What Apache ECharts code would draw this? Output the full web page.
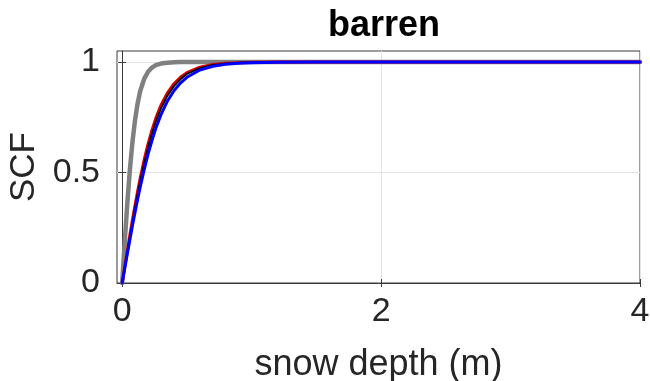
<!DOCTYPE html>
<html>
<head>
<meta charset="utf-8">
<title>barren</title>
<script src="https://cdn.jsdelivr.net/npm/echarts@6/dist/echarts.min.js"></script>
<style>
  html, body { margin: 0; padding: 0; background: #ffffff; }
  #chart { width: 650px; height: 381px; }
</style>
</head>
<body>
<div id="chart"></div>
<script>
// Snow cover fraction vs. snow depth for the barren land class
const depth    = [0, 0.02, 0.04, 0.06, 0.08, 0.1, 0.12, 0.14, 0.17, 0.2, 0.23, 0.26, 0.3, 0.35, 0.4, 0.45, 0.5, 0.6, 0.7, 0.8, 0.9, 1.0, 1.2, 1.5, 2, 3, 4];
const scfGray  = [0, 0.188, 0.364, 0.516, 0.642, 0.741, 0.815, 0.870, 0.924, 0.956, 0.975, 0.986, 0.993, 0.997, 0.999, 1, 1, 1, 1, 1, 1, 1, 1, 1, 1, 1, 1];
const scfRed   = [0, 0.074, 0.147, 0.219, 0.288, 0.354, 0.417, 0.476, 0.558, 0.630, 0.692, 0.746, 0.805, 0.861, 0.902, 0.931, 0.952, 0.977, 0.989, 0.995, 0.997, 0.999, 1, 1, 1, 1, 1];
const scfBlack = [0, 0.071, 0.142, 0.211, 0.278, 0.343, 0.404, 0.462, 0.542, 0.613, 0.676, 0.730, 0.790, 0.848, 0.891, 0.922, 0.946, 0.973, 0.987, 0.993, 0.997, 0.998, 1, 1, 1, 1, 1];
const scfBlue  = [0, 0.067, 0.133, 0.197, 0.261, 0.322, 0.380, 0.436, 0.513, 0.583, 0.645, 0.700, 0.762, 0.824, 0.870, 0.905, 0.931, 0.964, 0.981, 0.990, 0.995, 0.997, 0.999, 1, 1, 1, 1];
const xTicks = [0, 2, 4];
const yTicks = [0, 0.5, 1];

const FONT = '"Liberation Sans", Arial, Helvetica, sans-serif';
const INK = '#262626';
const FRAME = '#3a3a3a';
const GRID = '#e3e3e3';

function pairs(xs, ys) { return xs.map((x, i) => [x, ys[i]]); }

function lineSeries(name, ys, color, width, z) {
  return {
    name: name, type: 'line', data: pairs(depth, ys),
    showSymbol: false, smooth: false,
    lineStyle: { color: color, width: width, join: 'round', cap: 'round' }, z: z,
    animation: false
  };
}

function mirrorTicks(position, min, max, ticks) {
  return {
    type: 'value', min: min, max: max, position: position,
    axisLine: { show: false },
    axisTick: { show: true, inside: true, length: 4, customValues: ticks, lineStyle: { color: FRAME } },
    axisLabel: { show: false }, splitLine: { show: false }
  };
}

const chart = echarts.init(document.getElementById('chart'), null, { renderer: 'canvas' });
chart.setOption({
  animation: false,
  backgroundColor: '#ffffff',
  title: {
    text: 'barren', left: 379, top: 3, textAlign: 'center',
    textStyle: { fontFamily: FONT, fontWeight: 'bold', fontSize: 36, color: '#000' }
  },
  grid: {
    left: 117, right: 10, top: 51, bottom: 98,
    outerBoundsMode: 'none', containLabel: false,
    show: true, borderColor: FRAME, borderWidth: 1, backgroundColor: '#fff'
  },
  xAxis: [{
    type: 'value', min: -0.04, max: 4,
    name: 'snow depth (m)', nameLocation: 'middle', nameGap: 64,
    nameTextStyle: { fontFamily: FONT, fontSize: 36, color: INK },
    axisLine: { show: true, lineStyle: { color: FRAME, width: 1 } },
    axisTick: { show: true, inside: true, length: 4, customValues: xTicks, lineStyle: { color: FRAME } },
    axisLabel: { customValues: xTicks, margin: 12, fontFamily: FONT, fontSize: 34, color: INK,
                 alignMinLabel: 'center', alignMaxLabel: 'center', hideOverlap: false,
                 formatter: v => String(v) },
    splitLine: { show: true, lineStyle: { color: GRID, width: 1 } }
  }, mirrorTicks('top', -0.04, 4, xTicks)],
  yAxis: [{
    type: 'value', min: 0, max: 1.05,
    name: 'SCF', nameLocation: 'middle', nameGap: 74, nameRotate: 90,
    nameTextStyle: { fontFamily: FONT, fontSize: 35, color: INK },
    axisLine: { show: true, lineStyle: { color: FRAME, width: 1 } },
    axisTick: { show: true, inside: true, length: 4, customValues: yTicks, lineStyle: { color: FRAME } },
    axisLabel: { customValues: yTicks, margin: 17, fontFamily: FONT, fontSize: 34, color: INK,
                 verticalAlignMinLabel: 'middle', verticalAlignMaxLabel: 'middle', hideOverlap: false,
                 formatter: v => String(v) },
    splitLine: { show: true, lineStyle: { color: GRID, width: 1 } }
  }, mirrorTicks('right', 0, 1.05, yTicks)],
  series: [
    lineSeries('gray', scfGray, '#808080', 4.5, 2),
    lineSeries('red', scfRed, '#d40000', 3, 3),
    lineSeries('black', scfBlack, '#000000', 1.8, 4),
    lineSeries('blue', scfBlue, '#0000ff', 3, 5)
  ]
});
</script>
</body>
</html>
